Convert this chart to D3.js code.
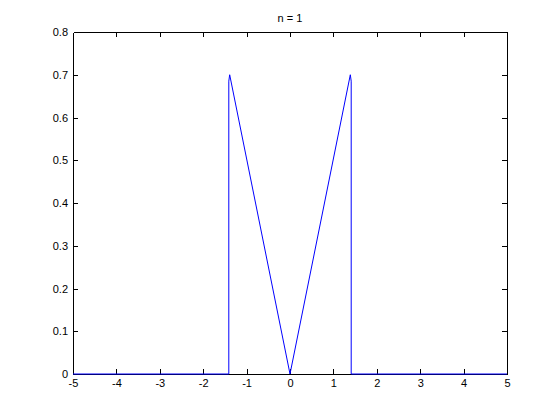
<!DOCTYPE html>
<html>
<head>
<meta charset="utf-8">
<script src="https://cdn.jsdelivr.net/npm/d3@7"></script>
<style>
  body { margin: 0; background: #fff; }
  svg { display: block; }
  text { font-family: "Liberation Sans", Arial, sans-serif; font-size: 11px; fill: #000; }
</style>
</head>
<body>
<div id="chart"></div>
<script>
// curve samples (x, y)
const xs = [-5, -1.41, -1.41, -1.39, 0, 1.39, 1.41, 1.41, 5];
const ys = [0, 0, 0.685, 0.70, 0, 0.70, 0.685, 0, 0];
const xTicks = [-5, -4, -3, -2, -1, 0, 1, 2, 3, 4, 5];
const yTicks = [0, 0.1, 0.2, 0.3, 0.4, 0.5, 0.6, 0.7, 0.8];
const title = "n = 1";

const width = 560, height = 420;
// MATLAB default axes position
const margin = { left: 73, right: 53, top: 32, bottom: 46 };

const svg = d3.select("#chart").append("svg")
  .attr("width", width)
  .attr("height", height);

const x = d3.scaleLinear().domain([-5, 5]).range([margin.left, width - margin.right]);
const y = d3.scaleLinear().domain([0, 0.8]).range([height - margin.bottom, margin.top]);

const tickLen = 5;

// bottom axis (plain hyphen for negatives, like the original)
const axBottom = svg.append("g")
  .attr("transform", `translate(0,${height - margin.bottom})`)
  .call(d3.axisBottom(x).tickValues(xTicks).tickSizeInner(-tickLen).tickSizeOuter(0).tickPadding(5)
    .tickFormat(d => String(d)));
// top axis (ticks only)
const axTop = svg.append("g")
  .attr("transform", `translate(0,${margin.top})`)
  .call(d3.axisTop(x).tickValues(xTicks).tickSizeInner(-tickLen).tickSizeOuter(0).tickFormat(""));
// left axis
const axLeft = svg.append("g")
  .attr("transform", `translate(${margin.left},0)`)
  .call(d3.axisLeft(y).tickValues(yTicks).tickSizeInner(-tickLen).tickSizeOuter(0).tickPadding(5)
    .tickFormat(d => d === 0 ? "0" : d3.format(".1f")(d)));
// right axis (ticks only)
const axRight = svg.append("g")
  .attr("transform", `translate(${width - margin.right},0)`)
  .call(d3.axisRight(y).tickValues(yTicks).tickSizeInner(-tickLen).tickSizeOuter(0).tickFormat(""));

[axBottom, axTop, axLeft, axRight].forEach(g => {
  g.selectAll("path.domain").attr("stroke", "#000").attr("shape-rendering", "crispEdges");
  g.selectAll(".tick line").attr("stroke", "#000").attr("shape-rendering", "crispEdges");
  g.selectAll("text").attr("font-family", null).attr("font-size", null).style("font-size", "11px");
});
// hide end ticks that overlap the box
[axBottom, axTop].forEach(g => g.selectAll(".tick line").filter(d => d === -5 || d === 5).remove());
[axLeft, axRight].forEach(g => g.selectAll(".tick line").filter(d => d === 0 || d === 0.8).remove());

// data line
const pts = xs.map((v, i) => [v, ys[i]]);
svg.append("path")
  .datum(pts)
  .attr("fill", "none")
  .attr("stroke", "#0000ff")
  .attr("stroke-width", 1)
  .attr("d", d3.line().x(d => x(d[0])).y(d => y(d[1])));

// title
svg.append("text")
  .attr("x", (x(-5) + x(5)) / 2)
  .attr("y", margin.top - 10)
  .attr("text-anchor", "middle")
  .text(title);
</script>
</body>
</html>
